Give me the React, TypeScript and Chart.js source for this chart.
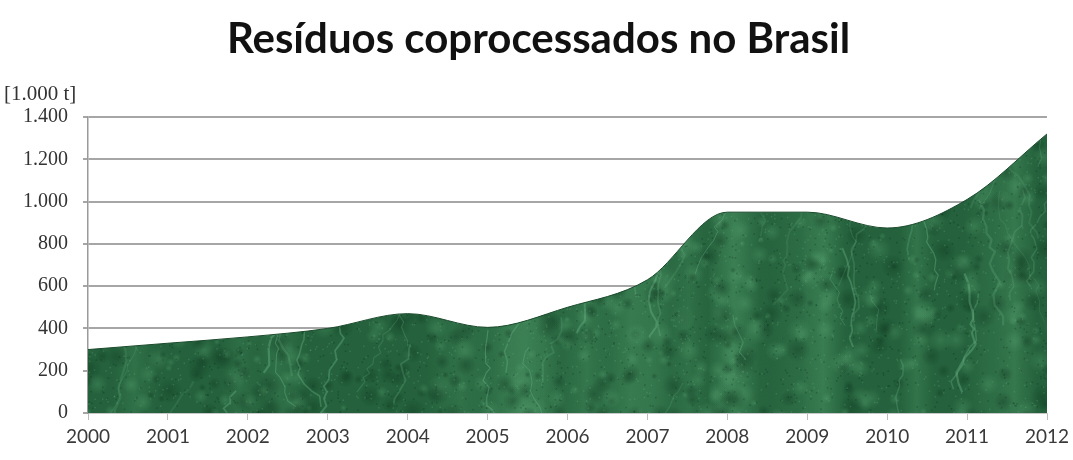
import React, { useEffect, useRef } from "react";
import { Chart, registerables } from "chart.js";

Chart.register(...registerables);

const chartTitle = "Resíduos coprocessados no Brasil";
const unitLabel = "[1.000 t]";
const years = ["2000", "2001", "2002", "2003", "2004", "2005", "2006", "2007", "2008", "2009", "2010", "2011", "2012"];
const residuos = [300, 330, 360, 400, 470, 405, 500, 630, 950, 950, 875, 1010, 1320];
const yMin = 0;
const yMax = 1400;
const yStep = 200;

function formatThousands(v: number): string {
  if (v >= 1000) {
    return `${Math.floor(v / 1000)}.${String(v % 1000).padStart(3, "0")}`;
  }
  return String(v);
}

function mulberry32(a: number) {
  return function () {
    a |= 0;
    a = (a + 0x6d2b79f5) | 0;
    let t = Math.imul(a ^ (a >>> 15), 1 | a);
    t = (t + Math.imul(t ^ (t >>> 7), 61 | t)) ^ t;
    return ((t ^ (t >>> 14)) >>> 0) / 4294967296;
  };
}

function makeMarblePattern(ctxMain: CanvasRenderingContext2D, w: number, h: number): CanvasPattern | string {
  const c = document.createElement("canvas");
  c.width = w;
  c.height = h;
  const g = c.getContext("2d");
  if (!g) return "#286640";
  const rnd = mulberry32(4242);
  g.fillStyle = "#24613c";
  g.fillRect(0, 0, w, h);
  // broad lighter vertical bands
  for (let i = 0; i < 20; i++) {
    const x = rnd() * w;
    const bw = 15 + rnd() * 35;
    const grad = g.createLinearGradient(x - bw, 0, x + bw, 0);
    grad.addColorStop(0, "rgba(80,155,105,0)");
    grad.addColorStop(0.5, `rgba(80,155,105,${0.18 + rnd() * 0.22})`);
    grad.addColorStop(1, "rgba(80,155,105,0)");
    g.fillStyle = grad;
    g.fillRect(x - bw, 0, bw * 2, h);
  }
  // soft blotches
  for (let i = 0; i < 1600; i++) {
    const x = rnd() * w;
    const y = rnd() * h;
    const r = 3 + rnd() * 10;
    const dark = rnd() < 0.5;
    const grad = g.createRadialGradient(x, y, 0, x, y, r);
    if (dark) {
      grad.addColorStop(0, "rgba(14,55,30,0.38)");
      grad.addColorStop(1, "rgba(14,55,30,0)");
    } else {
      grad.addColorStop(0, "rgba(90,165,115,0.32)");
      grad.addColorStop(1, "rgba(90,165,115,0)");
    }
    g.fillStyle = grad;
    g.fillRect(x - r, y - r, r * 2, r * 2);
  }
  // light veins
  for (let i = 0; i < 110; i++) {
    let x = rnd() * w;
    let y = 100 + rnd() * (h - 100);
    g.beginPath();
    g.moveTo(x, y);
    const steps = 4 + Math.floor(rnd() * 14);
    const dir = rnd() < 0.5 ? -1 : 1;
    for (let s = 0; s < steps; s++) {
      x += (rnd() - 0.5) * 12 + dir * 2;
      y -= 4 + rnd() * 8;
      g.lineTo(x, y);
    }
    g.strokeStyle = `rgba(125,200,155,${0.12 + rnd() * 0.22})`;
    g.lineWidth = 0.8 + rnd() * 1.5;
    g.stroke();
  }
  // fine speckle
  for (let i = 0; i < 8000; i++) {
    const x = rnd() * w;
    const y = rnd() * h;
    g.fillStyle = rnd() < 0.5 ? "rgba(110,180,135,0.25)" : "rgba(5,35,18,0.25)";
    g.fillRect(x, y, 1.5, 1.5);
  }
  const p = ctxMain.createPattern(c, "no-repeat");
  return p || "#286640";
}

const headerTextPlugin = {
  id: "headerText",
  afterDraw(chart: any) {
    const ctx = chart.ctx;
    ctx.save();
    ctx.font = "bold 42px Lato";
    ctx.fillStyle = "#111111";
    ctx.textAlign = "center";
    ctx.textBaseline = "middle";
    ctx.fillText(chartTitle, 538.5, 39);
    ctx.font = "21px 'Liberation Serif'";
    ctx.fillStyle = "#333333";
    ctx.textAlign = "left";
    ctx.fillText(unitLabel, 4, 94);
    ctx.restore();
  },
};

export default function App() {
  const canvasRef = useRef<HTMLCanvasElement | null>(null);

  useEffect(() => {
    document.body.style.margin = "0";
    const canvas = canvasRef.current;
    if (!canvas) return;
    const ctx = canvas.getContext("2d");
    if (!ctx) return;
    const pattern = makeMarblePattern(ctx, 1073, 460);

    const chart = new Chart(canvas, {
      type: "line",
      data: {
        labels: years,
        datasets: [
          {
            label: "Resíduos",
            data: residuos,
            fill: "origin",
            backgroundColor: pattern as any,
            borderColor: "#1b4a2c",
            borderWidth: 1,
            pointRadius: 0,
            cubicInterpolationMode: "monotone",
          },
        ],
      },
      options: {
        animation: false,
        responsive: false,
        maintainAspectRatio: false,
        layout: { padding: { left: 0, right: 26, top: 117, bottom: 0 } },
        plugins: {
          legend: { display: false },
          tooltip: { enabled: false },
          title: { display: false },
        },
        scales: {
          x: {
            type: "category",
            offset: false,
            afterFit(scale: any) {
              scale.height = 47;
              scale.paddingLeft = 0;
              scale.paddingRight = 0;
            },
            grid: {
              display: true,
              drawOnChartArea: false,
              drawTicks: true,
              tickLength: 7,
              color: "#bdbdbd",
            },
            border: { display: true, color: "#c8c8c8", width: 1 },
            ticks: {
              color: "#3a3a3a",
              font: { family: "Lato", size: 19 },
              maxRotation: 0,
              autoSkip: false,
              padding: 5,
            },
          },
          y: {
            min: yMin,
            max: yMax,
            afterFit(scale: any) {
              scale.width = 88;
            },
            grid: {
              color: "#a6a6a6",
              lineWidth: 2,
              drawTicks: true,
              tickLength: 5,
            },
            border: { display: true, color: "#9a9a9a", width: 1.5 },
            ticks: {
              stepSize: yStep,
              color: "#333333",
              font: { family: "Liberation Serif", size: 20 },
              padding: 15,
              callback: (v: any) => formatThousands(Number(v)),
            },
          },
        },
      },
      plugins: [headerTextPlugin],
    });

    return () => {
      chart.destroy();
    };
  }, []);

  return (
    <div style={{ width: 1073, height: 460, background: "#ffffff" }}>
      <canvas ref={canvasRef} width={1073} height={460} style={{ display: "block" }} />
    </div>
  );
}
